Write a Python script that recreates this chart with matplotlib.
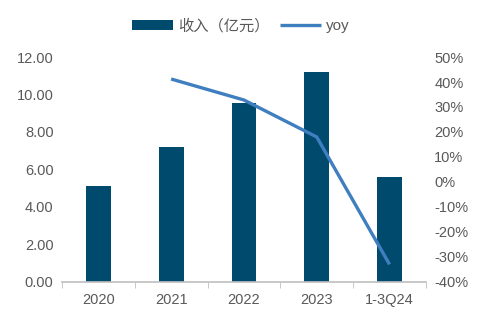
import matplotlib
matplotlib.use("Agg")
import matplotlib.pyplot as plt
import numpy as np
from matplotlib.ticker import FuncFormatter, FixedLocator

plt.rcParams['font.family'] = ['Liberation Sans', 'Noto Sans CJK SC', 'DejaVu Sans']

categories = ['2020', '2021', '2022', '2023', '1-3Q24']
revenue = [5.12, 7.20, 9.55, 11.20, 5.60]
yoy_labels = ['2021', '2022', '2023', '1-3Q24']
yoy = [41.2, 32.8, 18.0, -33.0]

bar_color = '#004A6E'
line_color = '#3F7FBF'
text_color = '#595959'

fig = plt.figure(figsize=(4.84, 3.24), dpi=100)
ax = fig.add_axes([0.128, 0.13, 0.752, 0.694])
x = np.arange(len(categories))
ax.bar(x, revenue, width=0.34, color=bar_color, label='收入（亿元）', zorder=2)
ax.set_xlim(-0.5, len(categories) - 0.5)
ax.set_ylim(0, 12)
ax.set_yticks(np.arange(0, 12.01, 2))
ax.yaxis.set_major_formatter(FuncFormatter(lambda v, p: f'{v:.2f}'))
ax.set_xticks(x)
ax.set_xticklabels(categories)
ax.xaxis.set_minor_locator(FixedLocator(np.arange(-0.5, len(categories), 1.0)))
ax.tick_params(axis='x', which='major', length=0, pad=8, labelsize=10.5, labelcolor=text_color)
ax.tick_params(axis='x', which='minor', length=4, color='#BFBFBF', direction='out')
ax.tick_params(axis='y', length=0, pad=6, labelsize=10.5, labelcolor=text_color)
for s in ['top', 'left', 'right']:
    ax.spines[s].set_visible(False)
ax.spines['bottom'].set_color('#BFBFBF')
ax.spines['bottom'].set_linewidth(1.2)

ax2 = ax.twinx()
xi = [categories.index(c) for c in yoy_labels]
ax2.plot(xi, yoy, color=line_color, linewidth=2.4, label='yoy', zorder=3, solid_capstyle='butt')
ax2.set_ylim(-40, 50)
ax2.set_yticks(np.arange(-40, 50.1, 10))
ax2.yaxis.set_major_formatter(FuncFormatter(lambda v, p: f'{v:.0f}%'))
ax2.tick_params(axis='y', length=0, pad=6, labelsize=10.5, labelcolor=text_color)
for s in ['top', 'left', 'right', 'bottom']:
    ax2.spines[s].set_visible(False)

h1, l1 = ax.get_legend_handles_labels()
h2, l2 = ax2.get_legend_handles_labels()
leg = fig.legend(h1 + h2, l1 + l2, loc='center', bbox_to_anchor=(0.497, 0.92), ncol=2,
                 frameon=False, fontsize=11, handlelength=2.7, handletextpad=0.3,
                 columnspacing=0.7)
for t in leg.get_texts():
    t.set_color(text_color)

fig.savefig('out.png', dpi=100)
